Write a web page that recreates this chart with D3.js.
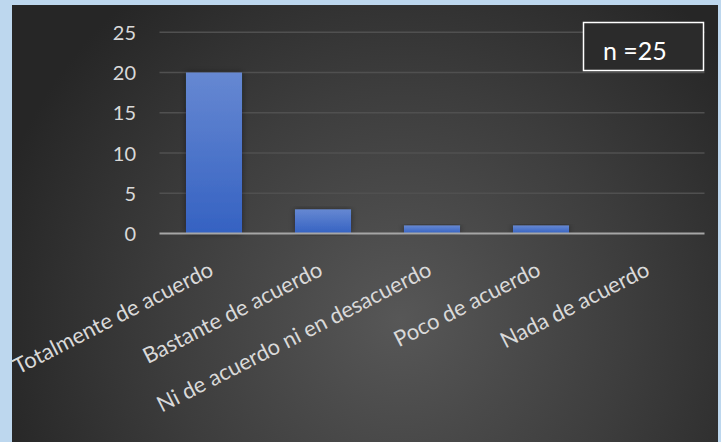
<!DOCTYPE html>
<html>
<head>
<meta charset="utf-8">
<script src="https://cdn.jsdelivr.net/npm/d3@7"></script>
<style>
  html, body { margin: 0; padding: 0; background: #BDD7EE; }
  svg { display: block; }
  text { font-family: Lato, "Open Sans", sans-serif; }
</style>
</head>
<body>
<svg id="chart" width="721" height="442"></svg>
<script>
// Survey responses per agreement level
const categories = [
  "Totalmente de acuerdo",
  "Bastante de acuerdo",
  "Ni de acuerdo ni en desacuerdo",
  "Poco de acuerdo",
  "Nada de acuerdo"
];
const counts = [20, 3, 1, 1, 0];
const yTicks = [0, 5, 10, 15, 20, 25];
const sampleLabel = "n =25";

const svg = d3.select("#chart");
const W = 721, H = 442;

const defs = svg.append("defs");

// dark chart-area background, lighter toward the lower middle
const bg = defs.append("radialGradient")
  .attr("id", "bgGrad")
  .attr("gradientUnits", "userSpaceOnUse")
  .attr("cx", 400).attr("cy", 320).attr("r", 420);
bg.append("stop").attr("offset", "0%").attr("stop-color", "#575757");
bg.append("stop").attr("offset", "55%").attr("stop-color", "#3d3d3d");
bg.append("stop").attr("offset", "100%").attr("stop-color", "#262626");

// bar fill, lighter at the top
const barGrad = defs.append("linearGradient")
  .attr("id", "barGrad")
  .attr("x1", 0).attr("y1", 0).attr("x2", 0).attr("y2", 1);
barGrad.append("stop").attr("offset", "0%").attr("stop-color", "#6688D2");
barGrad.append("stop").attr("offset", "100%").attr("stop-color", "#3562C2");

const shadow = defs.append("filter").attr("id", "barShadow")
  .attr("x", "-30%").attr("y", "-10%").attr("width", "160%").attr("height", "120%");
shadow.append("feDropShadow")
  .attr("dx", 0).attr("dy", 0).attr("stdDeviation", 3)
  .attr("flood-color", "#000").attr("flood-opacity", 0.45);

svg.append("rect")
  .attr("x", 12).attr("y", 5).attr("width", 706).attr("height", H - 5)
  .attr("fill", "url(#bgGrad)");

const x = d3.scaleBand()
  .domain(categories)
  .range([159.5, 704.5])
  .paddingInner(0.486)
  .paddingOuter(0.243);

const y = d3.scaleLinear()
  .domain([0, 25])
  .range([233.5, 32.3]);

// horizontal gridlines
svg.append("g")
  .selectAll("line")
  .data(yTicks.filter(t => t > 0))
  .join("line")
  .attr("x1", 159.5).attr("x2", 704.5)
  .attr("y1", d => y(d)).attr("y2", d => y(d))
  .attr("stroke", "#505050").attr("stroke-width", 1.5);

// y axis labels
const yAxis = d3.axisLeft(y).tickValues(yTicks).tickSize(0).tickPadding(0);
const gy = svg.append("g").attr("transform", "translate(136,0)").call(yAxis);
gy.select(".domain").remove();
gy.selectAll("text")
  .attr("fill", "#D9D9D9")
  .attr("font-size", 20)
  .attr("dy", "0.35em");

// bars
svg.append("g")
  .selectAll("rect")
  .data(counts)
  .join("rect")
  .attr("x", (d, i) => x(categories[i]))
  .attr("width", x.bandwidth())
  .attr("y", d => y(d))
  .attr("height", d => y(0) - y(d))
  .attr("fill", "url(#barGrad)")
  .attr("filter", "url(#barShadow)");

// baseline
svg.append("line")
  .attr("x1", 159.5).attr("x2", 704.5)
  .attr("y1", y(0)).attr("y2", y(0))
  .attr("stroke", "#A6A6A6").attr("stroke-width", 2);

// rotated category labels, right end of the baseline under each bar centre
const xAxis = d3.axisBottom(x).tickSize(0).tickPadding(0);
const gx = svg.append("g").attr("transform", `translate(0,${y(0)})`).call(xAxis);
gx.select(".domain").remove();
gx.selectAll(".tick text")
  .attr("fill", "#D9D9D9")
  .attr("font-size", 22)
  .attr("text-anchor", "end")
  .attr("y", 0)
  .attr("dy", 0)
  .attr("transform", "translate(1,41) rotate(-27)");

// sample size box
svg.append("rect")
  .attr("x", 583.5).attr("y", 22.5).attr("width", 120).attr("height", 48)
  .attr("fill", "#2b2b2b").attr("stroke", "#ffffff").attr("stroke-width", 1.5);
svg.append("text")
  .attr("x", 603).attr("y", 60)
  .attr("fill", "#ffffff")
  .attr("font-size", 25)
  .text(sampleLabel);
</script>
</body>
</html>
